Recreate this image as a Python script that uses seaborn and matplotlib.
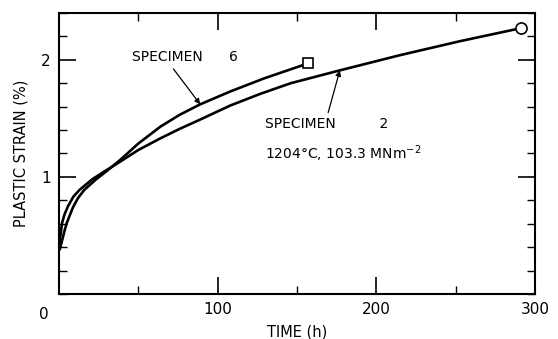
import numpy as np
import pandas as pd
import matplotlib
matplotlib.use("Agg")
import matplotlib.pyplot as plt
from matplotlib.ticker import MultipleLocator
import seaborn as sns

# ---- data ----
spec2_time = [0, 0.5, 2, 3.5, 5.7, 9, 13, 21, 29, 38.5, 50, 64, 76, 89, 108,
              127, 146, 177, 215, 253, 291]
spec2_strain = [0.38, 0.46, 0.61, 0.68, 0.75, 0.83, 0.89, 0.98, 1.05, 1.13,
                1.23, 1.33, 1.41, 1.49, 1.61, 1.71, 1.80, 1.91, 2.04, 2.16, 2.27]
spec6_time = [0.5, 2, 3.5, 5, 8.8, 12, 16, 23, 31, 39, 50, 64, 76, 89, 108,
              129, 157]
spec6_strain = [0.38, 0.46, 0.54, 0.61, 0.74, 0.82, 0.89, 0.975, 1.06, 1.15,
                1.285, 1.43, 1.53, 1.62, 1.73, 1.84, 1.97]
x_ticks = [0, 100, 200, 300]
x_ticklabels = ["", "100", "200", "300"]
y_ticks = [1, 2]
y_ticklabels = ["1", "2"]

sns.set_theme(style="white")
plt.rcParams['font.family'] = ['DejaVu Sans']

df = pd.concat([
    pd.DataFrame({"time": spec2_time, "strain": spec2_strain, "spec": "2"}),
    pd.DataFrame({"time": spec6_time, "strain": spec6_strain, "spec": "6"}),
])

fig = plt.figure(figsize=(5.58, 3.39), dpi=100)
ax = fig.add_axes([0.1057, 0.1327, 0.8531, 0.829])

sns.lineplot(data=df, x="time", y="strain", units="spec", estimator=None,
             sort=False, color="black", linewidth=1.9, ax=ax, legend=False)
for ln in ax.lines:
    ln.set_solid_joinstyle("round")
    ln.set_solid_capstyle("round")

# end markers
ax.plot(spec6_time[-1], spec6_strain[-1], marker="s", ms=6.5, mfc="white",
        mec="black", mew=1.2, zorder=5, clip_on=False)
ax.plot(spec2_time[-1], spec2_strain[-1], marker="o", ms=8, mfc="white",
        mec="black", mew=1.2, zorder=5, clip_on=False)

ax.set_xlim(0, 300)
ax.set_ylim(0, 2.4)
ax.set_xticks(x_ticks)
ax.set_xticklabels(x_ticklabels)
ax.set_yticks(y_ticks)
ax.set_yticklabels(y_ticklabels)
ax.xaxis.set_minor_locator(MultipleLocator(50))
ax.yaxis.set_minor_locator(MultipleLocator(0.2))
ax.tick_params(which="both", direction="in", top=True, right=True,
               bottom=True, left=True, color="black", labelsize=11,
               labelcolor="black", pad=6)
ax.tick_params(which="major", length=12, width=1.2)
ax.tick_params(which="minor", length=5.5, width=1.0)
for s in ax.spines.values():
    s.set_color("black")
    s.set_linewidth(1.5)

ax.set_xlabel("TIME (h)", fontsize=10.5, color="black", labelpad=5)
ax.set_ylabel("PLASTIC STRAIN (%)", fontsize=10.5, color="black", labelpad=9)

# origin label
ax.text(-0.022, -0.045, "0", transform=ax.transAxes, ha="right", va="top",
        fontsize=11, color="black")

# annotations
ax.annotate("SPECIMEN      6", xy=(89, 1.62), xytext=(46, 2.02),
            fontsize=10, color="black", ha="left", va="center",
            arrowprops=dict(arrowstyle="-|>", color="black", lw=0.9,
                            shrinkA=1, shrinkB=0, mutation_scale=8,
                            relpos=(0.36, 0.0)))
ax.annotate("SPECIMEN          2", xy=(177, 1.91), xytext=(130, 1.45),
            fontsize=10, color="black", ha="left", va="center",
            arrowprops=dict(arrowstyle="-|>", color="black", lw=0.9,
                            shrinkA=1, shrinkB=0, mutation_scale=8,
                            relpos=(0.5, 1.0)))
ax.text(130, 1.20, r"1204°C, 103.3 MNm$^{-2}$", fontsize=10, color="black",
        ha="left", va="center")

fig.savefig("out.png", dpi=100)
